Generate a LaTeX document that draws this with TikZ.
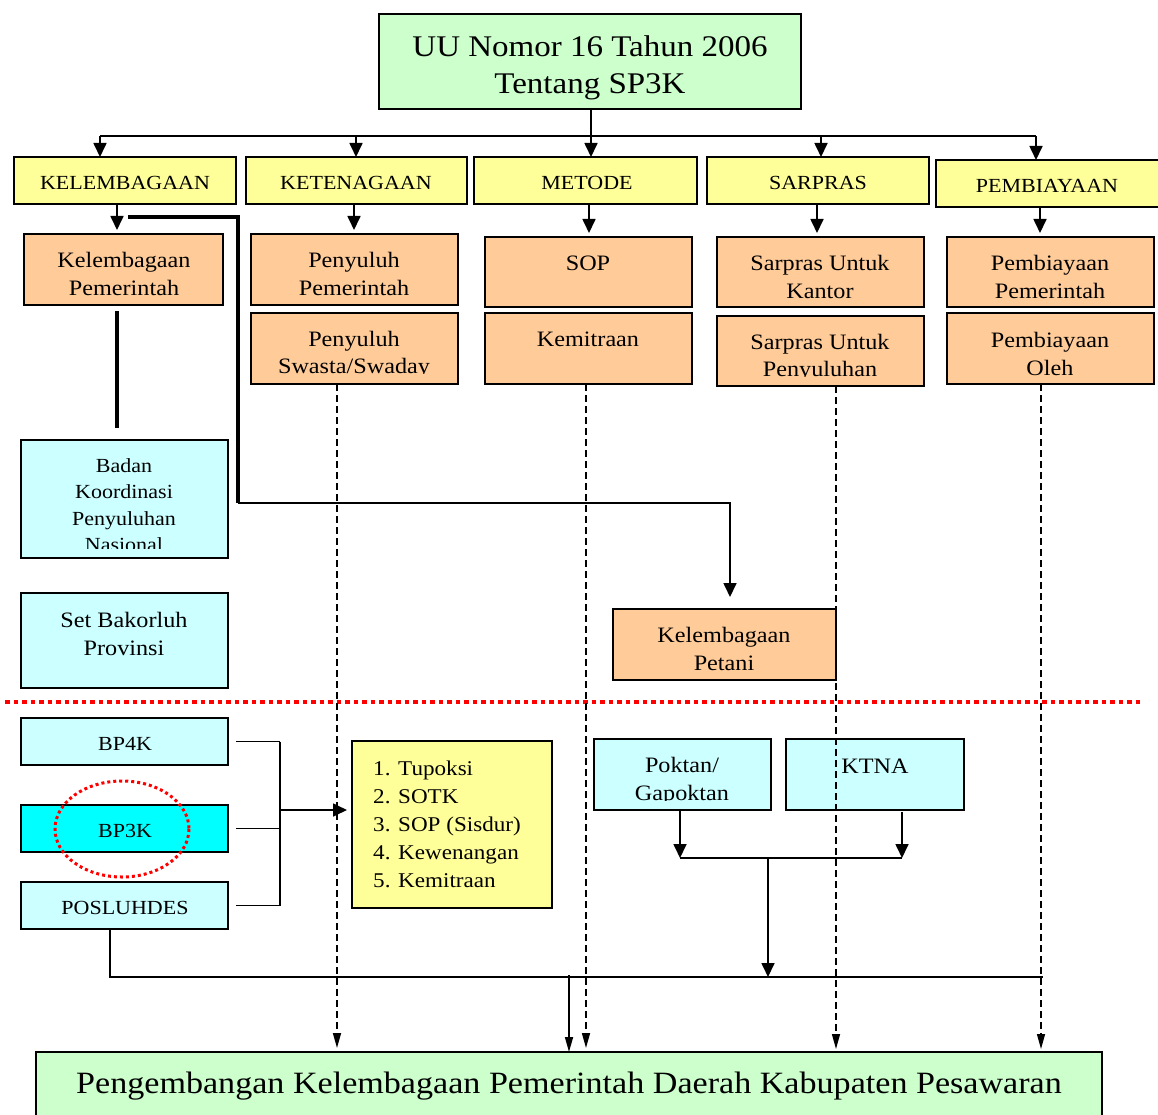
\documentclass[tikz,border=0pt]{standalone}
\usepackage{fontspec}
\setmainfont{Liberation Serif}[FakeStretch=1.1]
\usetikzlibrary{arrows.meta}

\definecolor{hijau}{HTML}{CCFFCC}
\definecolor{kuning}{HTML}{FFFF99}
\definecolor{jingga}{HTML}{FFCC99}
\definecolor{birumuda}{HTML}{CCFFFF}
\definecolor{sian}{HTML}{00FFFF}
\definecolor{merah}{HTML}{FF0000}

% box: name, x1, y1, x2, y2, fill
\newcommand\kotak[6]{%
  \node[box, fill=#6, minimum width={#4-#2}, minimum height={#5-#3}] (#1) at (#2,#3) {};}

\begin{document}
\begin{tikzpicture}[x=1pt,y=-1pt,
  box/.style={draw, line width=1.6pt, anchor=north west, inner sep=0pt, outer sep=0pt},
  txt/.style={align=center, inner sep=0pt, font=\fontsize{22}{27.5}\selectfont},
  kapital/.style={align=center, inner sep=0pt, font=\fontsize{20}{24}\selectfont},
  big/.style={align=center, inner sep=0pt, font=\fontsize{30}{37}\selectfont},
  garis/.style={line width=1.7pt},
  tebal/.style={line width=3.5pt},
  arr/.style={line width=1.7pt, -{Triangle[width=13pt,length=14pt]}},
  darr/.style={line width=1.5pt, dash pattern=on 7pt off 4pt, -{Triangle[width=8pt,length=15pt]}},
  sarr/.style={line width=1.7pt, -{Triangle[width=8pt,length=15pt]}},
  batas/.style={merah, line width=4.5pt, dash pattern=on 4.5pt off 4pt},
  lingkar/.style={merah, line width=3pt, dash pattern=on 3pt off 3pt},
]
\useasboundingbox (0,0) rectangle (1158,1115);

% ---------- top level ----------
\kotak{uu}{379}{14}{801}{109}{hijau}
\node[big] (uut) at (590,68) {UU Nomor 16 Tahun 2006\\Tentang SP3K};

% ---------- five aspects ----------
\kotak{kel}{14}{157}{236}{204}{kuning}
\kotak{ket}{246}{157}{467}{204}{kuning}
\kotak{met}{474}{157}{697}{204}{kuning}
\kotak{sar}{707}{157}{929}{204}{kuning}
\kotak{pem}{936}{160}{1162}{207}{kuning}
\node[kapital] (kelt) at (125,182.5) {KELEMBAGAAN};
\node[kapital] (kett) at (356,182.5) {KETENAGAAN};
\node[kapital] (mett) at (587,182.5) {METODE};
\node[kapital] (sart) at (818,182.5) {SARPRAS};
\node[kapital] (pemt) at (1047,185.5) {PEMBIAYAAN};

% ---------- details ----------
\kotak{kp}{24}{234}{223}{305}{jingga}
\kotak{pp}{251}{234}{458}{305}{jingga}
\kotak{ps}{251}{313}{458}{384}{jingga}
\kotak{sop}{485}{237}{692}{307}{jingga}
\kotak{kmt}{485}{313}{692}{384}{jingga}
\kotak{sk}{717}{237}{924}{307}{jingga}
\kotak{sp}{717}{316}{924}{386}{jingga}
\kotak{bp}{947}{237}{1154}{307}{jingga}
\kotak{bo}{947}{313}{1154}{384}{jingga}

\node[txt] (kpt) at (124,274) {Kelembagaan\\Pemerintah};
\node[txt] (ppt) at (354,274) {Penyuluh\\Pemerintah};
\begin{scope}
  \clip (251,313) rectangle (458,373);
  \node[txt] (pst) at (354,354.5) {Penyuluh\\Swasta/Swaday};
\end{scope}
\node[txt] (sopt) at (588,263) {SOP};
\node[txt] (kmtt) at (588,339) {Kemitraan};
\node[txt] (skt) at (820,277) {Sarpras Untuk\\Kantor};
\begin{scope}
  \clip (717,316) rectangle (924,376);
  \node[txt] (spt) at (820,357.5) {Sarpras Untuk\\Penyuluhan};
\end{scope}
\node[txt] (bpt) at (1050,277) {Pembiayaan\\Pemerintah};
\node[txt] (bot) at (1050,354) {Pembiayaan\\Oleh};

% ---------- coordinating bodies ----------
\kotak{bkpn}{21}{440}{228}{558}{birumuda}
\begin{scope}
  \clip (21,440) rectangle (228,548);
  \node[txt, font=\fontsize{20}{26.5}\selectfont] (bkpnt) at (124,505) {Badan\\Koordinasi\\Penyuluhan\\Nasional};
\end{scope}
\kotak{sbp}{21}{593}{228}{688}{birumuda}
\node[txt] (sbpt) at (124,634) {Set Bakorluh\\Provinsi};
\kotak{kpet}{613}{609}{836}{680}{jingga}
\node[txt] (kpett) at (724,649) {Kelembagaan\\Petani};

% ---------- dividing line ----------
\draw[batas] (5,702) -- (1140,702);

% ---------- regency level ----------
\kotak{bp4k}{21}{718}{228}{765}{birumuda}
\kotak{bp3k}{21}{805}{228}{852}{sian}
\kotak{pos}{21}{882}{228}{929}{birumuda}
\node[kapital] (bp4kt) at (125,743.5) {BP4K};
\node[kapital] (bp3kt) at (125,830.5) {BP3K};
\node[kapital] (post) at (125,907.5) {POSLUHDES};
\draw[lingkar] (122,829) ellipse [x radius=67, y radius=48];

\kotak{daftar}{352}{741}{552}{908}{kuning}
\node[txt, align=left, anchor=west, font=\fontsize{21}{28}\selectfont] (daftart) at (373,824)
  {1. Tupoksi\\2. SOTK\\3. SOP (Sisdur)\\4. Kewenangan\\5. Kemitraan};

\kotak{pok}{594}{739}{771}{810}{birumuda}
\begin{scope}
  \clip (594,739) rectangle (771,800);
  \node[txt] (pokt) at (682,781) {Poktan/\\Gapoktan};
\end{scope}
\kotak{ktna}{786}{739}{964}{810}{birumuda}
\node[txt] (ktnat) at (875,766) {KTNA};

\kotak{akhir}{36}{1052}{1102}{1125}{hijau}
\node[txt, font=\fontsize{31}{36}\selectfont] (akhirt) at (569,1086)
  {Pengembangan Kelembagaan Pemerintah Daerah Kabupaten Pesawaran};

% ---------- connectors: top tree ----------
\coordinate (bus) at (591,136);
\coordinate (busA) at (100,136);
\coordinate (busB) at (356,136);
\coordinate (busC) at (591,136);
\coordinate (busD) at (821,136);
\coordinate (busE) at (1036,136);
\draw[garis] (uu.south -| bus) -- (bus);
\draw[garis] (busA) -- (busE);
\draw[arr] (busA) -- (busA |- kel.north);
\draw[arr] (busB) -- (busB |- ket.north);
\draw[arr] (busC) -- (busC |- met.north);
\draw[arr] (busD) -- (busD |- sar.north);
\draw[arr] (busE) -- (busE |- pem.north);

% aspects to details
\draw[arr, shorten >=4pt] (117,0 |- kel.south) -- (117,0 |- kp.north);
\draw[arr, shorten >=4pt] (354,0 |- ket.south) -- (354,0 |- pp.north);
\draw[arr, shorten >=4pt] (589,0 |- met.south) -- (589,0 |- sop.north);
\draw[arr, shorten >=4pt] (817,0 |- sar.south) -- (817,0 |- sk.north);
\draw[arr, shorten >=4pt] (1040,0 |- pem.south) -- (1040,0 |- bp.north);

% institution line to farmer institutions
\coordinate (kelA) at (128,217);
\coordinate (kelB) at (238,217);
\coordinate (kelC) at (238,503);
\draw[tebal] (kelA) -- (kelB) -- (kelC);
\draw[arr, shorten >=12pt] (kelC) -| (730,0 |- kpet.north);
\draw[tebal, line width=4pt, shorten <=6pt, shorten >=12pt] (117,0 |- kp.south) -- (117,0 |- bkpn.north);

% ---------- regency connectors ----------
\coordinate (brk) at (280,810);
\draw[garis, shorten <=8pt] (bp4k.east) -- (bp4k.east -| brk);
\draw[garis, shorten <=8pt] (bp3k.east) -- (bp3k.east -| brk);
\draw[garis, shorten <=8pt] (pos.east) -- (pos.east -| brk);
\draw[garis] (bp4k.east -| brk) -- (pos.east -| brk);
\draw[arr, shorten >=5pt] (brk) -- (daftar.west |- brk);

\coordinate (gabA) at (680,858);
\coordinate (gabB) at (902,858);
\coordinate (gabM) at (768,858);
\draw[arr] (gabA |- pok.south) -- (gabA);
\draw[arr] (gabB |- ktna.south) ++(0,2) -- (gabB);
\draw[garis] (gabA) -- (gabB);
\coordinate (rel) at (768,977);
\draw[arr] (gabM) -- (rel);

\coordinate (relA) at (110,977);
\coordinate (relB) at (1043,977);
\draw[garis] (relA |- pos.south) -- (relA) -- (relB);
\draw[sarr] (569,975) -- (569,0 |- akhir.north);

% dashed contributions to the goal
\draw[darr, shorten >=4pt] (337,0 |- ps.south) -- (337,0 |- akhir.north);
\draw[darr, shorten >=4pt] (586,0 |- kmt.south) -- (586,0 |- akhir.north);
\draw[darr, shorten >=3pt] (836,0 |- sp.south) -- (836,0 |- akhir.north);
\draw[darr, shorten >=3pt] (1041,0 |- bo.south) -- (1041,0 |- akhir.north);
\end{tikzpicture}
\end{document}
